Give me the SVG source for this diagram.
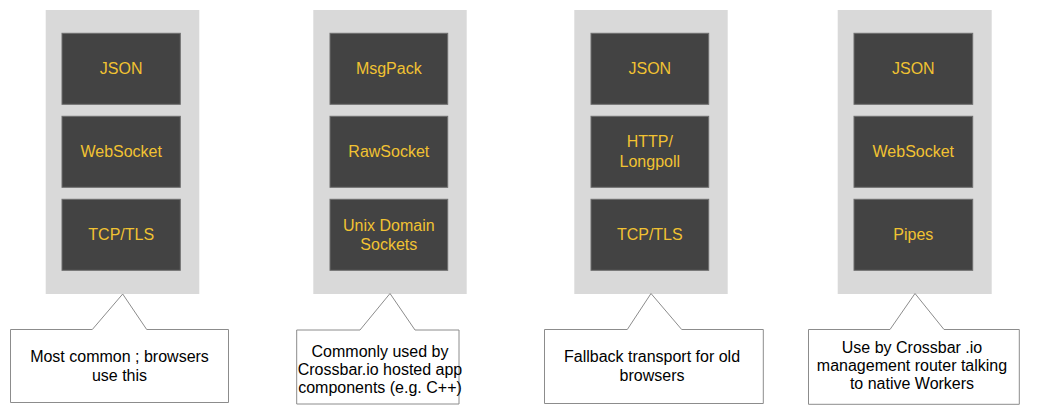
<svg xmlns="http://www.w3.org/2000/svg" width="1037" height="413" viewBox="0 0 1037 413">
<style>
.col{fill:#d9d9d9;}
.box{fill:#434343;stroke:#6f6f6f;stroke-width:1;}
.lt{font-family:"Liberation Sans",Arial,sans-serif;font-size:16px;fill:#f1c232;text-anchor:middle;}
.co{fill:#ffffff;stroke:#8c8c8c;stroke-width:1;}
.ct{font-family:"Liberation Sans",Arial,sans-serif;font-size:16px;fill:#000000;text-anchor:middle;}
</style>
<rect width="1037" height="413" fill="#ffffff"/>
<g id="stack1">
<rect class="col" x="45.7" y="10" width="153.6" height="284"/>
<g id="s1-json"><rect class="box" x="62" y="33.3" width="118.3" height="71"/><text class="lt" x="121.2" y="74.3">JSON</text></g>
<g id="s1-ws"><rect class="box" x="62" y="116.3" width="118.3" height="71"/><text class="lt" x="121.2" y="157.3">WebSocket</text></g>
<g id="s1-tcp"><rect class="box" x="62" y="199.3" width="118.3" height="71"/><text class="lt" x="121.2" y="240.3">TCP/TLS</text></g>
</g>
<g id="stack2">
<rect class="col" x="313.3" y="10" width="153.4" height="284"/>
<g id="s2-msgpack"><rect class="box" x="330" y="33.3" width="117.7" height="71"/><text class="lt" x="388.8" y="74.3">MsgPack</text></g>
<g id="s2-raw"><rect class="box" x="330" y="116.3" width="117.7" height="71"/><text class="lt" x="388.8" y="157.3">RawSocket</text></g>
<g id="s2-unix"><rect class="box" x="330" y="199.3" width="117.7" height="71"/><text class="lt" x="388.8" y="230.6">Unix Domain</text><text class="lt" x="388.8" y="250.2">Sockets</text></g>
</g>
<g id="stack3">
<rect class="col" x="574.3" y="10" width="153.4" height="284"/>
<g id="s3-json"><rect class="box" x="591" y="33.3" width="117.7" height="71"/><text class="lt" x="649.8" y="74.3">JSON</text></g>
<g id="s3-http"><rect class="box" x="591" y="116.3" width="117.7" height="71"/><text class="lt" x="649.8" y="147.3">HTTP/</text><text class="lt" x="649.8" y="166.8">Longpoll</text></g>
<g id="s3-tcp"><rect class="box" x="591" y="199.3" width="117.7" height="71"/><text class="lt" x="649.8" y="240.3">TCP/TLS</text></g>
</g>
<g id="stack4">
<rect class="col" x="837.7" y="10" width="154" height="284"/>
<g id="s4-json"><rect class="box" x="854" y="33.3" width="118.7" height="71"/><text class="lt" x="913.3" y="74.3">JSON</text></g>
<g id="s4-ws"><rect class="box" x="854" y="116.3" width="118.7" height="71"/><text class="lt" x="913.3" y="157.3">WebSocket</text></g>
<g id="s4-pipes"><rect class="box" x="854" y="199.3" width="118.7" height="71"/><text class="lt" x="913.3" y="240.3">Pipes</text></g>
</g>
<g id="callout1">
<path class="co" d="M10.5 329.5 H92.3 L122.7 294 L146.7 329.5 H228.5 V402.5 H10.5 Z"/>
<text class="ct" x="119.5" y="361.5">Most common ; browsers</text>
<text class="ct" x="119.5" y="380.5">use this</text>
</g>
<g id="callout2">
<path class="co" d="M296.7 330 H360 L390 293.5 L415 330 H459 V404 H296.7 Z"/>
<text class="ct" x="380" y="356.5">Commonly used by</text>
<text class="ct" x="380" y="374.5">Crossbar.io hosted app</text>
<text class="ct" x="380" y="392.5">components  (e.g. C++)</text>
</g>
<g id="callout3">
<path class="co" d="M544.5 329.5 H627.3 L651 293.5 L681.7 329.5 H763.3 V403.5 H544.5 Z"/>
<text class="ct" x="652" y="361.5">Fallback transport for old</text>
<text class="ct" x="652" y="380.5">browsers</text>
</g>
<g id="callout4">
<path class="co" d="M808.5 329.5 H890 L915 293.5 L944 329.5 H1019.3 V404.3 H808.5 Z"/>
<text class="ct" x="912" y="352.5">Use by Crossbar .io</text>
<text class="ct" x="912" y="370.5">management router talking</text>
<text class="ct" x="912" y="388.5">to native Workers</text>
</g>
</svg>
